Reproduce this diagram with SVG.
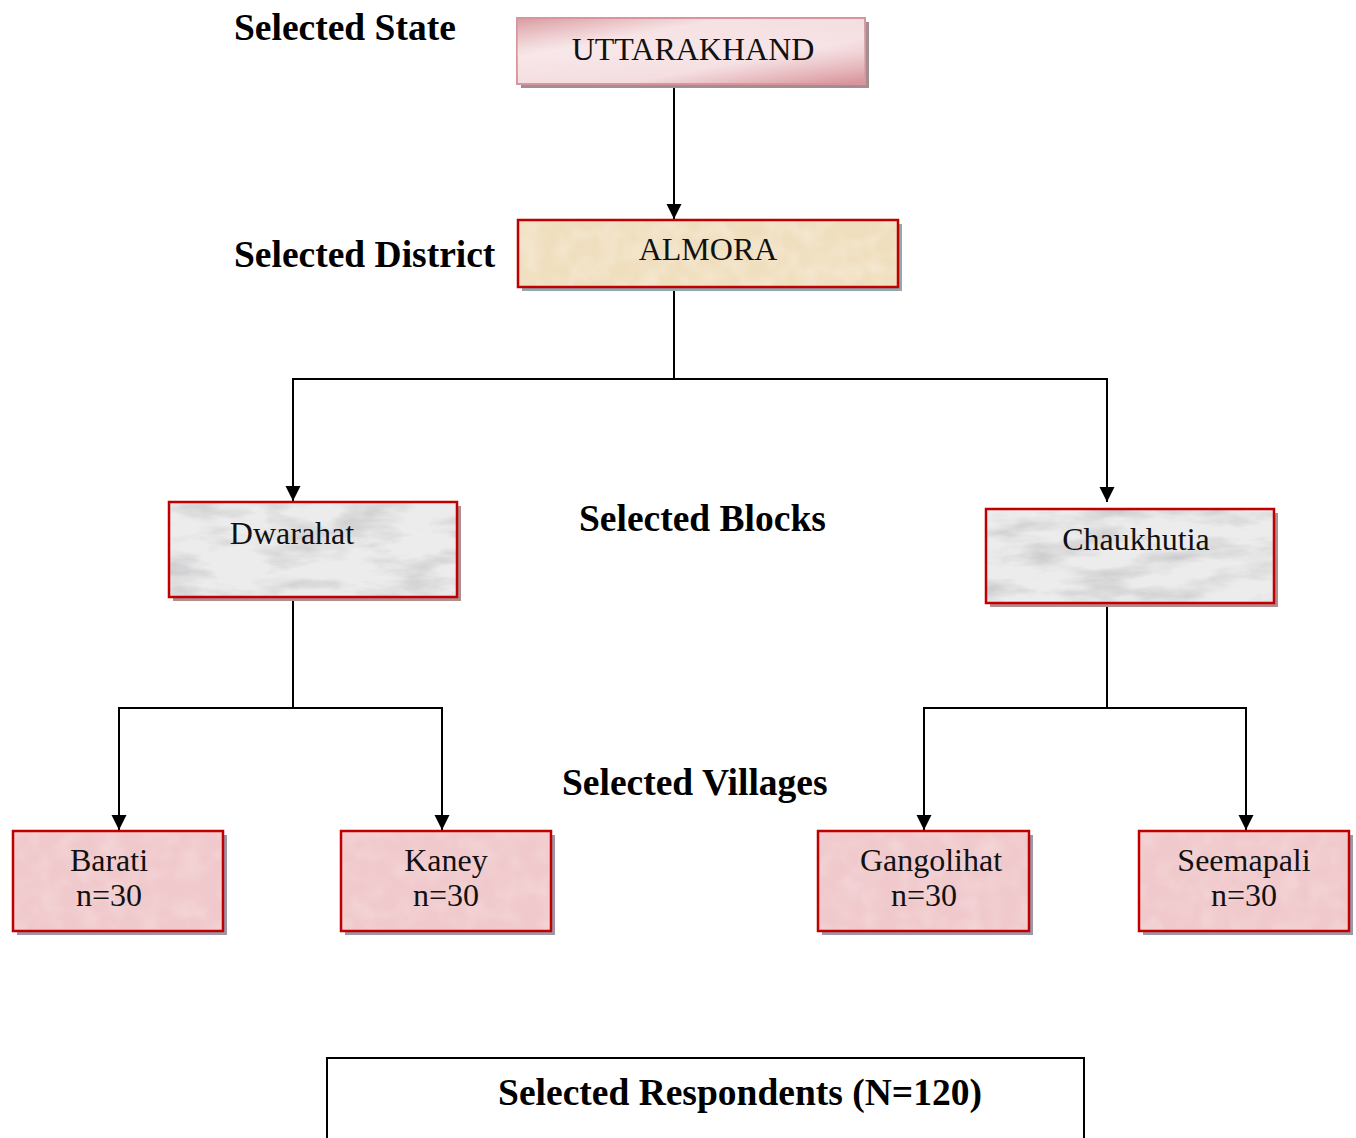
<svg xmlns="http://www.w3.org/2000/svg" width="1356" height="1138" viewBox="0 0 1356 1138">
<defs>
<style>
.lbl{font-family:"Liberation Serif","Times New Roman",serif;font-weight:bold;font-size:37.5px;fill:#000}
.txt{font-family:"Liberation Serif","Times New Roman",serif;font-size:32px;fill:#111}
.conn{stroke:#000;stroke-width:2;fill:none}
.red{stroke:#c00000;stroke-width:2.5}
</style>
<marker id="arr" markerWidth="16" markerHeight="16" refX="15" refY="8" orient="auto" markerUnits="userSpaceOnUse" viewBox="0 0 16 16">
<path d="M0,0.5 L15,8 L0,15.5 Z" fill="#000"/>
</marker>
<linearGradient id="gState" x1="0" y1="0" x2="1" y2="1">
<stop offset="0" stop-color="#d99aa0"/>
<stop offset="0.3" stop-color="#f6e0e2"/>
<stop offset="0.65" stop-color="#f4dcdf"/>
<stop offset="1" stop-color="#d68f96"/>
</linearGradient>
<linearGradient id="gState2" x1="0" y1="0" x2="0" y2="1">
<stop offset="0" stop-color="#fff" stop-opacity="0"/>
<stop offset="0.5" stop-color="#fff" stop-opacity="0.25"/>
<stop offset="1" stop-color="#fff" stop-opacity="0"/>
</linearGradient>
<filter id="marble" x="0" y="0" width="100%" height="100%">
<feTurbulence type="fractalNoise" baseFrequency="0.015 0.05" numOctaves="4" seed="7"/>
<feColorMatrix type="matrix" values="0 0 0 0 0.5  0 0 0 0 0.5  0 0 0 0 0.52  0 0 0 -2.2 1.25"/>
</filter>
<filter id="mottle" x="0" y="0" width="100%" height="100%">
<feTurbulence type="fractalNoise" baseFrequency="0.05" numOctaves="2" seed="2"/>
<feColorMatrix type="matrix" values="0 0 0 0 1  0 0 0 0 1  0 0 0 0 1  0 0 0 -1.2 0.75"/>
</filter>
</defs>
<rect width="1356" height="1138" fill="#fff"/>

<g id="labels">
<text class="lbl" x="234" y="40">Selected State</text>
<text class="lbl" x="234" y="267">Selected District</text>
<text class="lbl" x="579" y="531">Selected Blocks</text>
<text class="lbl" x="562" y="795">Selected Villages</text>
</g>

<g id="connectors">
<line class="conn" x1="674" y1="84" x2="674" y2="219" marker-end="url(#arr)"/>
<polyline class="conn" points="674,288 674,379"/>
<polyline class="conn" points="293,379 1107,379"/>
<line class="conn" x1="293" y1="378" x2="293" y2="501" marker-end="url(#arr)"/>
<line class="conn" x1="1107" y1="378" x2="1107" y2="502" marker-end="url(#arr)"/>
<polyline class="conn" points="293,598 293,708"/>
<polyline class="conn" points="119,708 442,708"/>
<line class="conn" x1="119" y1="707" x2="119" y2="830" marker-end="url(#arr)"/>
<line class="conn" x1="442" y1="707" x2="442" y2="830" marker-end="url(#arr)"/>
<polyline class="conn" points="1107,604 1107,708"/>
<polyline class="conn" points="924,708 1246,708"/>
<line class="conn" x1="924" y1="707" x2="924" y2="830" marker-end="url(#arr)"/>
<line class="conn" x1="1246" y1="707" x2="1246" y2="830" marker-end="url(#arr)"/>
</g>

<g id="n-state">
<rect x="521" y="22" width="348" height="66" fill="#a48e92"/>
<rect x="517" y="18" width="348" height="66" fill="url(#gState)" stroke="#d8969c" stroke-width="2"/>
<rect x="517" y="18" width="348" height="66" fill="url(#gState2)"/>
<text class="txt" x="693" y="60" text-anchor="middle">UTTARAKHAND</text>
</g>

<g id="n-district">
<rect x="522" y="224" width="380" height="67" fill="#8fa9b1"/>
<rect x="518" y="220" width="380" height="67" fill="#f0dfbf"/>
<rect x="518" y="220" width="380" height="67" filter="url(#mottle)" opacity="0.5"/>
<rect x="518" y="220" width="380" height="67" fill="none" class="red"/>
<text class="txt" x="708" y="260" text-anchor="middle">ALMORA</text>
</g>

<g id="n-dwarahat">
<rect x="173" y="506" width="288" height="95" fill="#b08e90"/>
<rect x="169" y="502" width="288" height="95" fill="#ececec"/>
<rect x="169" y="502" width="288" height="95" filter="url(#marble)" opacity="0.7"/>
<rect x="169" y="502" width="288" height="95" fill="none" class="red"/>
<text class="txt" x="292" y="544" text-anchor="middle">Dwarahat</text>
</g>

<g id="n-chaukhutia">
<rect x="990" y="513" width="288" height="94" fill="#b08e90"/>
<rect x="986" y="509" width="288" height="94" fill="#ececec"/>
<rect x="986" y="509" width="288" height="94" filter="url(#marble)" opacity="0.7"/>
<rect x="986" y="509" width="288" height="94" fill="none" class="red"/>
<text class="txt" x="1136" y="550" text-anchor="middle">Chaukhutia</text>
</g>

<g id="n-barati">
<rect x="17" y="835" width="210" height="100" fill="#9d98a8"/>
<rect x="13" y="831" width="210" height="100" fill="#f0c9cc"/>
<rect x="13" y="831" width="210" height="100" filter="url(#mottle)" opacity="0.35"/>
<rect x="13" y="831" width="210" height="100" fill="none" class="red"/>
<text class="txt" x="109" y="871" text-anchor="middle">Barati</text>
<text class="txt" x="109" y="906" text-anchor="middle">n=30</text>
</g>

<g id="n-kaney">
<rect x="345" y="835" width="210" height="100" fill="#9d98a8"/>
<rect x="341" y="831" width="210" height="100" fill="#f0c9cc"/>
<rect x="341" y="831" width="210" height="100" filter="url(#mottle)" opacity="0.35"/>
<rect x="341" y="831" width="210" height="100" fill="none" class="red"/>
<text class="txt" x="446" y="871" text-anchor="middle">Kaney</text>
<text class="txt" x="446" y="906" text-anchor="middle">n=30</text>
</g>

<g id="n-gangolihat">
<rect x="822" y="835" width="211" height="100" fill="#9d98a8"/>
<rect x="818" y="831" width="211" height="100" fill="#f0c9cc"/>
<rect x="818" y="831" width="211" height="100" filter="url(#mottle)" opacity="0.35"/>
<rect x="818" y="831" width="211" height="100" fill="none" class="red"/>
<text class="txt" x="931" y="871" text-anchor="middle">Gangolihat</text>
<text class="txt" x="924" y="906" text-anchor="middle">n=30</text>
</g>

<g id="n-seemapali">
<rect x="1143" y="835" width="210" height="100" fill="#9d98a8"/>
<rect x="1139" y="831" width="210" height="100" fill="#f0c9cc"/>
<rect x="1139" y="831" width="210" height="100" filter="url(#mottle)" opacity="0.35"/>
<rect x="1139" y="831" width="210" height="100" fill="none" class="red"/>
<text class="txt" x="1244" y="871" text-anchor="middle">Seemapali</text>
<text class="txt" x="1244" y="906" text-anchor="middle">n=30</text>
</g>

<g id="n-respondents">
<rect x="327" y="1058" width="757" height="100" fill="none" stroke="#000" stroke-width="2"/>
<text class="lbl" x="740" y="1105" text-anchor="middle">Selected Respondents (N=120)</text>
</g>
</svg>
